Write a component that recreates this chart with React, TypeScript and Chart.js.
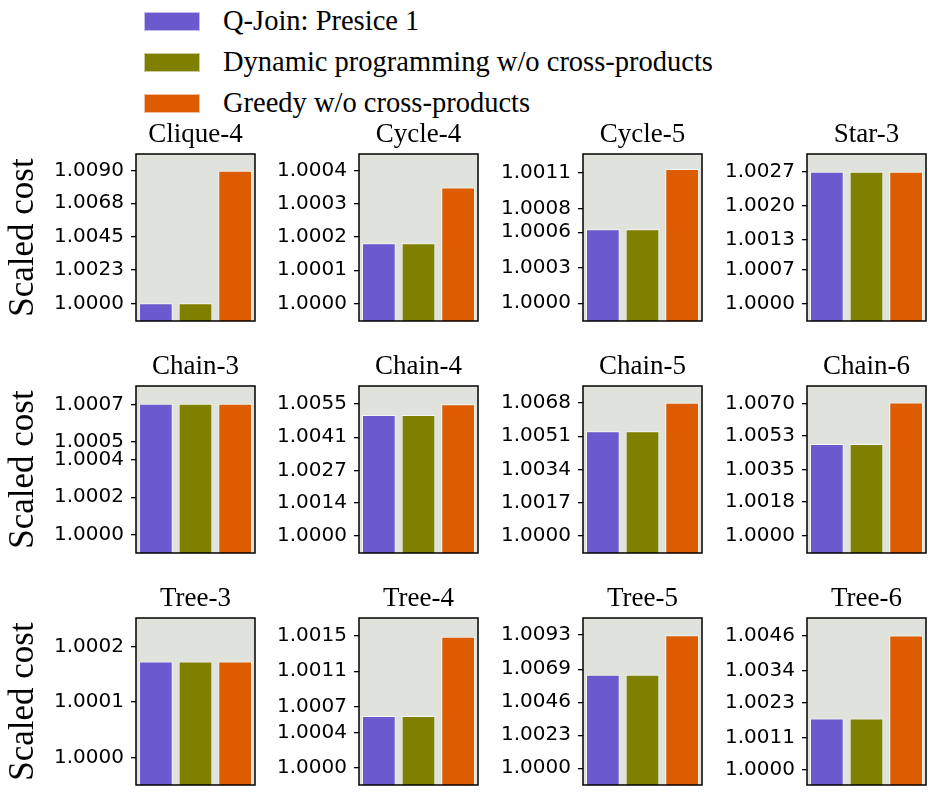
import { useEffect, useRef } from 'react';
import { Chart, registerables } from 'chart.js';

Chart.register(...registerables);

// values
const PANELS = ['Clique-4', 'Cycle-4', 'Cycle-5', 'Star-3', 'Chain-3', 'Chain-4', 'Chain-5', 'Chain-6', 'Tree-3', 'Tree-4', 'Tree-5', 'Tree-6'];
const SERIES = ['Q-Join: Presice 1', 'Dynamic programming w/o cross-products', 'Greedy w/o cross-products'];
const QJOIN = [1.0, 1.000181, 1.000624, 1.002694, 1.000703, 1.005017, 1.005346, 1.004866, 1.000173, 1.00059, 1.00651, 1.001756];
const DP = [1.0, 1.000181, 1.000624, 1.002694, 1.000703, 1.005017, 1.005346, 1.004866, 1.000173, 1.00059, 1.00651, 1.001756];
const GREEDY = [1.009, 1.000349, 1.001134, 1.002694, 1.000703, 1.00546, 1.0068, 1.00705, 1.000173, 1.001493, 1.00926, 1.0046];
const TICKS = [
  [1.0, 1.0023, 1.0045, 1.0068, 1.009],
  [1.0, 1.0001, 1.0002, 1.0003, 1.0004],
  [1.0, 1.0003, 1.0006, 1.0008, 1.0011],
  [1.0, 1.0007, 1.0013, 1.002, 1.0027],
  [1.0, 1.0002, 1.0004, 1.0005, 1.0007],
  [1.0, 1.0014, 1.0027, 1.0041, 1.0055],
  [1.0, 1.0017, 1.0034, 1.0051, 1.0068],
  [1.0, 1.0018, 1.0035, 1.0053, 1.007],
  [1.0, 1.0001, 1.0002],
  [1.0, 1.0004, 1.0007, 1.0011, 1.0015],
  [1.0, 1.0023, 1.0046, 1.0069, 1.0093],
  [1.0, 1.0011, 1.0023, 1.0034, 1.0046],
];
const Y_MIN = [0.9988, 0.999947, 0.99985, 0.99965, 0.9999, 0.9993, 0.99914, 0.99911, 0.999951, 0.999806, 0.99883, 0.99948];
const Y_MAX = [1.01014, 1.00045, 1.00126, 1.003056, 1.000799, 1.00622, 1.00766, 1.00792, 1.000251, 1.001705, 1.01047, 1.0052];

const COLORS = ['#6a5acd', '#808000', '#dd5c00'];
const PLOT_BG = '#e0e3dc';
const SERIF = "'Liberation Serif', 'Times New Roman', serif";
const SANS = "'DejaVu Sans', sans-serif";

const BOX_LEFT = [136, 359, 583, 807];
const BOX_TOP = [154, 386, 618];
const BOX_W = 119;
const BOX_H = 183;
const TITLE_H = 40;

const framePlugin = {
  id: 'frame',
  beforeDatasetsDraw(chart) {
    const { ctx, chartArea: a } = chart;
    ctx.save();
    ctx.fillStyle = PLOT_BG;
    ctx.fillRect(a.left, a.top, a.right - a.left, a.bottom - a.top);
    ctx.restore();
  },
  afterDraw(chart) {
    const { ctx, chartArea: a } = chart;
    ctx.save();
    ctx.strokeStyle = '#000';
    ctx.lineWidth = 1.5;
    ctx.strokeRect(a.left, a.top, a.right - a.left, a.bottom - a.top);
    ctx.restore();
  },
};

const Panel = ({ idx }) => {
  const canvasRef = useRef(null);
  const col = idx % 4;
  const row = Math.floor(idx / 4);
  const axisW = col === 0 ? 136 : 110;

  useEffect(() => {
    const chart = new Chart(canvasRef.current, {
      type: 'bar',
      data: {
        labels: SERIES,
        datasets: [
          {
            data: [QJOIN[idx], DP[idx], GREEDY[idx]],
            backgroundColor: COLORS,
            borderColor: 'rgba(255,255,255,0.7)',
            borderWidth: 1,
            categoryPercentage: 1,
            barPercentage: 0.85,
          },
        ],
      },
      options: {
        animation: false,
        responsive: true,
        maintainAspectRatio: false,
        layout: { padding: { left: 0, right: 3, top: 0, bottom: 3 } },
        plugins: {
          legend: { display: false },
          tooltip: { enabled: false },
          title: {
            display: true,
            text: PANELS[idx],
            fullSize: false,
            color: '#000',
            font: { family: SERIF, size: 27, weight: 'normal', lineHeight: 1.2 },
            padding: { top: 4.6, bottom: 3 },
          },
        },
        scales: {
          x: { display: false },
          y: {
            min: Y_MIN[idx],
            max: Y_MAX[idx],
            afterBuildTicks: (scale) => {
              scale.ticks = TICKS[idx].map((v) => ({ value: v }));
            },
            afterFit: (scale) => {
              scale.width = axisW;
            },
            border: { display: false },
            grid: { drawOnChartArea: false, drawTicks: true, tickLength: 5, color: '#000', lineWidth: 1.3 },
            ticks: {
              autoSkip: false,
              color: '#000',
              padding: 7,
              font: { family: SANS, size: 20 },
              callback: (v) => Number(v).toFixed(4),
            },
            title: {
              display: col === 0,
              text: 'Scaled cost',
              color: '#000',
              font: { family: SERIF, size: 35, lineHeight: 1.2 },
              padding: { top: 3, bottom: 0 },
            },
          },
        },
      },
      plugins: [framePlugin],
    });
    return () => chart.destroy();
  }, [idx]);

  return (
    <div
      style={{
        position: 'absolute',
        left: BOX_LEFT[col] - axisW,
        top: BOX_TOP[row] - TITLE_H,
        width: axisW + BOX_W + 3,
        height: TITLE_H + BOX_H + 3,
      }}
    >
      <canvas ref={canvasRef}></canvas>
    </div>
  );
};

const App = () => {
  return (
    <div style={{ position: 'absolute', left: 0, top: 0, width: 935, height: 810, background: '#fff' }}>
      {SERIES.map((s, i) => (
        <div
          key={s}
          style={{ position: 'absolute', left: 144, top: 21 + i * 41 - 20, height: 40, display: 'flex', alignItems: 'center', whiteSpace: 'nowrap' }}
        >
          <div style={{ width: 56, height: 19, background: COLORS[i], boxSizing: 'border-box', border: '1px solid rgba(255,255,255,0.6)' }} />
          <span style={{ marginLeft: 23, fontFamily: SERIF, fontSize: 28.5, color: '#000' }}>{s}</span>
        </div>
      ))}
      {PANELS.map((p, i) => (
        <Panel key={p} idx={i} />
      ))}
    </div>
  );
};

export default App;
